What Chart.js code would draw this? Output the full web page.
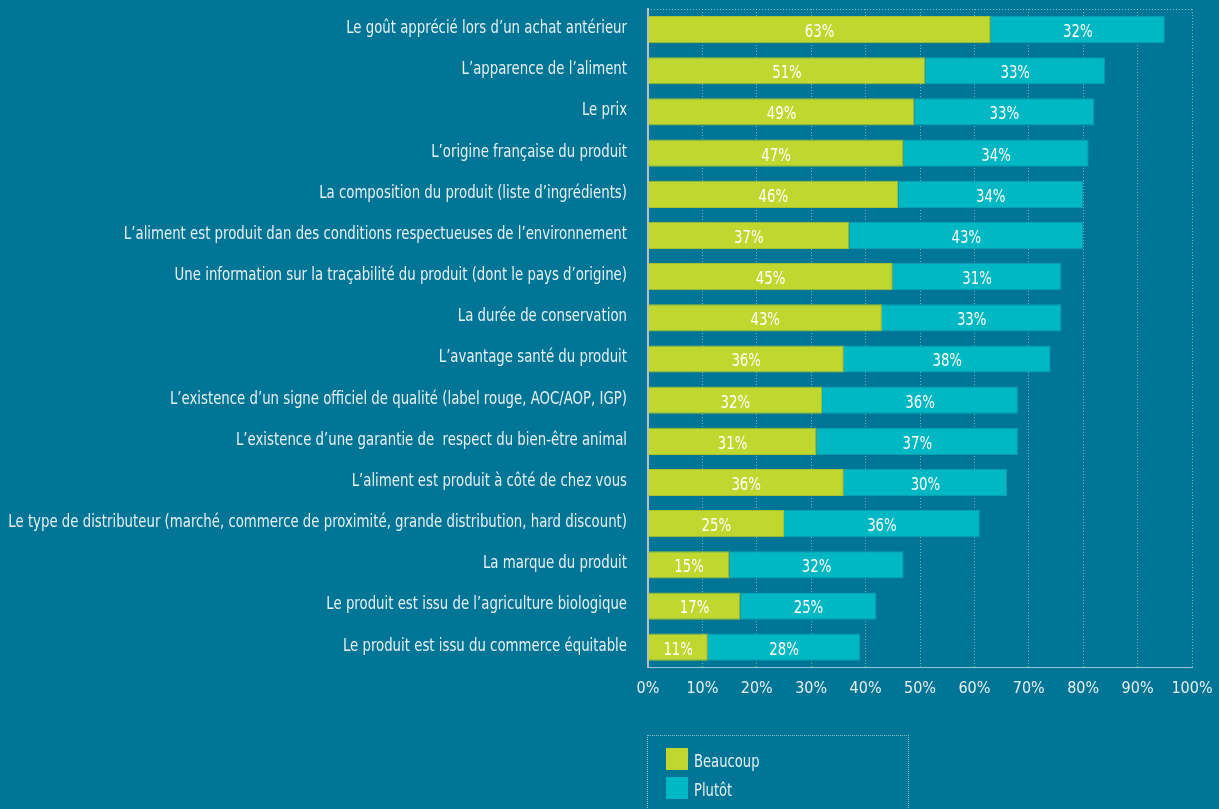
<!DOCTYPE html>
<html>
<head>
<meta charset="utf-8">
<script src="https://cdn.jsdelivr.net/npm/chart.js@4"></script>
<style>
  html, body { margin: 0; padding: 0; background: #007595; }
  #wrap { position: relative; width: 1219px; height: 809px; }
  #legend {
    position: absolute; left: 647px; top: 735px; width: 260px; height: 90px;
    border: 1px dotted rgba(255,255,255,0.55); border-bottom: none;
    font-family: "DejaVu Sans Condensed", sans-serif;
    font-size: 17px; color: #e8f1f5;
  }
  .item { position: absolute; left: 18px; height: 22px; line-height: 26px; white-space: nowrap; }
  .item span { display: inline-block; width: 22px; height: 22px; vertical-align: top; margin-right: 6px; }
  .item b { font-weight: normal; display: inline-block; transform: scaleX(0.86); transform-origin: left center; }
</style>
</head>
<body>
<div id="wrap">
  <canvas id="opinionChart" width="1219" height="809"></canvas>
  <div id="legend"></div>
</div>
<script>
var criteres = [
  "Le goût apprécié lors d’un achat antérieur",
  "L’apparence de l’aliment",
  "Le prix",
  "L’origine française du produit",
  "La composition du produit (liste d’ingrédients)",
  "L’aliment est produit dan des conditions respectueuses de l’environnement",
  "Une information sur la traçabilité du produit (dont le pays d’origine)",
  "La durée de conservation",
  "L’avantage santé du produit",
  "L’existence d’un signe officiel de qualité (label rouge, AOC/AOP, IGP)",
  "L’existence d’une garantie de  respect du bien-être animal",
  "L’aliment est produit à côté de chez vous",
  "Le type de distributeur (marché, commerce de proximité, grande distribution, hard discount)",
  "La marque du produit",
  "Le produit est issu de l’agriculture biologique",
  "Le produit est issu du commerce équitable"
];
var beaucoup = [63, 51, 49, 47, 46, 37, 45, 43, 36, 32, 31, 36, 25, 15, 17, 11];
var plutot   = [32, 33, 33, 34, 34, 43, 31, 33, 38, 36, 37, 30, 36, 32, 25, 28];
var seriesNames = ["Beaucoup", "Plutôt"];
var seriesColors = ["#c0d72f", "#00b7c4"];

var FONT = "'DejaVu Sans Condensed', sans-serif";
var TEXT = "#e8f1f5";
var SQUEEZE = 0.87; // narrow the condensed face a bit more

// text drawn with a horizontal squeeze, anchored at x
function narrowText(ctx, txt, x, y, align) {
  ctx.save();
  ctx.translate(x, y);
  ctx.scale(SQUEEZE, 1);
  ctx.textAlign = align;
  ctx.fillText(txt, 0, 0);
  ctx.restore();
}

// category names left of the axis
const categoryLabels = {
  id: 'categoryLabels',
  afterDraw: function (chart) {
    const ctx = chart.ctx;
    const y = chart.scales.y;
    ctx.save();
    ctx.font = '17px ' + FONT;
    ctx.fillStyle = TEXT;
    ctx.textBaseline = 'middle';
    chart.data.labels.forEach(function (lbl, i) {
      narrowText(ctx, lbl, y.right - 21, y.getPixelForTick(i) - 1, 'right');
    });
    ctx.restore();
  }
};

// value labels centred in each bar segment
const valueLabels = {
  id: 'valueLabels',
  afterDatasetsDraw: function (chart) {
    const ctx = chart.ctx;
    ctx.save();
    ctx.font = '17px ' + FONT;
    ctx.fillStyle = '#ffffff';
    ctx.textBaseline = 'middle';
    chart.data.datasets.forEach(function (ds, i) {
      chart.getDatasetMeta(i).data.forEach(function (bar, j) {
        const p = bar.getProps(['x', 'y', 'base'], true);
        narrowText(ctx, ds.data[j] + '%', (p.x + p.base) / 2, p.y + 3, 'center');
      });
    });
    ctx.restore();
  }
};

// dotted frame line along the top of the plot
const topLine = {
  id: 'topLine',
  beforeDatasetsDraw: function (chart) {
    const a = chart.chartArea;
    const ctx = chart.ctx;
    ctx.save();
    ctx.strokeStyle = 'rgba(255,255,255,0.55)';
    ctx.lineWidth = 1;
    ctx.setLineDash([1, 2]);
    ctx.beginPath();
    ctx.moveTo(a.left, a.top + 0.5);
    ctx.lineTo(a.right, a.top + 0.5);
    ctx.stroke();
    ctx.restore();
  }
};

var ctx = document.getElementById("opinionChart").getContext("2d");
var opinionChart = new Chart(ctx, {
  type: 'bar',
  data: {
    labels: criteres,
    datasets: [{
      label: seriesNames[0],
      data: beaucoup,
      backgroundColor: seriesColors[0],
      borderColor: '#a9c32c',
      borderWidth: 1,
      barPercentage: 0.66,
      categoryPercentage: 1
    }, {
      label: seriesNames[1],
      data: plutot,
      backgroundColor: seriesColors[1],
      borderColor: '#0a9fb0',
      borderWidth: 1,
      barPercentage: 0.66,
      categoryPercentage: 1
    }]
  },
  options: {
    indexAxis: 'y',
    responsive: false,
    animation: false,
    layout: { padding: { top: 9, right: 27, bottom: 100, left: 0 } },
    plugins: {
      legend: { display: false },
      tooltip: { enabled: false }
    },
    scales: {
      x: {
        stacked: true,
        min: 0,
        max: 100,
        afterFit: function (scale) { scale.paddingRight = 0; },
        ticks: {
          stepSize: 10,
          color: TEXT,
          font: { family: FONT, size: 16 },
          padding: 11,
          callback: function (v) { return v + '%'; }
        },
        grid: {
          color: 'rgba(255,255,255,0.45)',
          drawTicks: false
        },
        border: { display: true, color: 'rgba(255,255,255,0.55)', dash: [1, 2] }
      },
      y: {
        stacked: true,
        afterFit: function (scale) { scale.width = 648; },
        ticks: { display: false },
        grid: { display: false },
        border: { display: true, color: '#b3bfc5', width: 2 }
      }
    }
  },
  plugins: [valueLabels, topLine, categoryLabels]
});

// dotted vertical grid
opinionChart.options.scales.x.grid.borderDash = [1, 2];
opinionChart.options.scales.x.grid.dash = [1, 2];
opinionChart.update();

var legend = document.getElementById("legend");
seriesNames.forEach(function (name, i) {
  var item = document.createElement("div");
  item.className = "item";
  item.style.top = (12 + i * 29) + "px";
  item.innerHTML = '<span style="background:' + seriesColors[i] + '"></span><b>' + name + '</b>';
  legend.appendChild(item);
});
</script>
</body>
</html>
